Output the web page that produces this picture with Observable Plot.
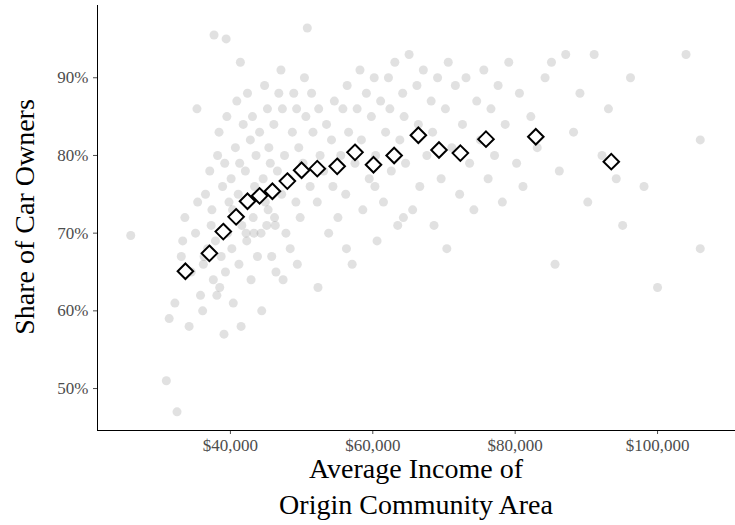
<!DOCTYPE html>
<html><head>
<script src="https://cdn.jsdelivr.net/npm/d3@7"></script>
<script src="https://cdn.jsdelivr.net/npm/@observablehq/plot@0.6"></script>
<style>body{margin:0;background:#fff}</style>
</head><body>
<div id="chart"></div>
<script>
// binned means (income in $, share in %)
const binIncome = [33680,37050,39000,40800,42400,44100,45900,48000,50000,52200,55000,57500,60100,63000,66400,69300,72300,75900,82900,93500]
const binShare = [65.1,67.4,70.2,72.1,74.1,74.8,75.4,76.7,78.1,78.3,78.6,80.4,78.8,80.0,82.6,80.7,80.3,82.1,82.4,79.2]

// community-area points (income in $k, share %)
const ptIncome = [26,32.5,31,31.4,32.2,33.1,33.6,34.2,34.5,35.1,35.4,35.8,36.2,36.5,36.1,36.8,37.3,37.1,37.6,37.9,37.4,38.2,38.5,38.7,38.1,38.9,38.4,39.3,39.6,39.2,39.8,39.1,39.5,40.2,40.5,40.1,40.7,40.4,40.9,40.3,41.2,41.6,41.3,41.8,41.1,41.5,42.3,42.6,42.1,42.8,42.4,42.9,43.2,43.6,43.1,43.8,43.4,44.3,44.6,44.1,44.8,44.4,44.9,45.3,45.6,45.2,45.8,45.4,46.3,46.6,46.1,46.8,46.4,47.2,47.6,47.3,47.8,47.1,48.2,48.7,48.4,48.9,49.2,49.6,49.3,49.8,50.2,50.6,50.4,50.8,51.2,51.6,51.4,52.2,52.6,52.4,53.1,53.5,53.8,54.2,54.6,54.4,55.1,55.5,55.8,56.2,56.6,56.4,57.1,57.5,57.8,58.2,58.6,58.4,59.1,59.5,59.8,60.2,60.6,60.4,61.1,61.5,61.8,62.2,62.6,62.4,63.1,63.5,63.8,64.2,64.6,64.4,65.1,65.6,66.2,66.6,66.4,67.1,67.6,68.2,68.6,68.4,69.1,69.6,70.2,70.6,70.4,71.1,71.6,72.2,72.6,73.1,73.6,74.2,74.6,75.1,75.6,76.2,76.6,77.1,77.6,78.2,78.6,79.1,80.2,80.6,81.1,82.2,83.1,84.2,85.1,85.6,86.2,87.1,88.2,89.1,90.2,91.1,92.2,93.1,94.2,95.1,96.2,98.1,100,104,106,106,35.3,37.7,39.4,41.4,43.3,45.1,47.4,49.4,33.3,36.3,42.2,46.2,52.3,56.3,60.3,64.3]
const ptShare = [69.7,47,51,59,61,67,72,58,65,70,74,62,66,75,60,68,71,78,64,69,73,80,63,67,62,76,83,65,70,79,74,57,85,68,72,77,81,61,87,73,66,71,79,84,75,58,69,74,78,82,88,64,72,80,85,67,76,70,77,83,89,60,74,73,79,86,67,81,71,78,84,88,65,75,80,86,70,91,77,83,68,88,74,81,86,72,79,85,90,96.4,76,83,88,74,80,86,78,84,70,82,87,76,72,80,86,75,83,89,66,79,86,91,73,82,88,77,85,90,69,80,87,74,83,90,78,86,92,71,82,88,79,85,93,73,89,76,84,91,80,87,71,83,90,77,86,92,68,81,89,75,84,90,79,73,87,82,91,77,86,80,89,74,84,92,79,88,76,85,81,90,92,66,78,93,83,88,74,93,80,86,77,71,90,76,63,93,68,82,86,95.5,95,92,70,71,64,66,69,67,70,72,63,68,76,72,81,84,70,65,73]

const points = ptIncome.map((v, i) => ({income: v * 1000, share: ptShare[i]}))
const bins = binIncome.map((v, i) => ({income: v, share: binShare[i]}))

const xMin = 21330, yMin = 44.6
const chart = Plot.plot({
  width: 735,
  height: 525,
  marginLeft: 97,
  marginRight: 0,
  marginTop: 5,
  marginBottom: 95,
  style: {fontFamily: "Liberation Serif", fontSize: "17px", color: "#4d4d4d", background: "#fff"},
  x: {domain: [xMin, 110950], ticks: [40000, 60000, 80000, 100000], tickFormat: d => "$" + d3.format(",")(d), label: null, tickSize: 4, tickPadding: 4},
  y: {domain: [yMin, 99.3], ticks: [50, 60, 70, 80, 90], tickFormat: d => d + "%", label: null, tickSize: 4},
  marks: [
    Plot.dot(points, {x: "income", y: "share", r: 4.5, fill: "#888", fillOpacity: 0.25}),
    Plot.ruleX([xMin], {stroke: "#000"}),
    Plot.ruleY([yMin], {stroke: "#000"}),
    Plot.dot(bins, {x: "income", y: "share", symbol: "diamond2", r: 7, stroke: "#000", strokeWidth: 2, fill: "#fff"})
  ]
})
const svg = d3.select(chart)
svg.append("text").attr("x", 416).attr("y", 478).attr("text-anchor", "middle")
  .attr("font-family", "Liberation Serif").attr("font-size", 28).attr("fill", "#000").text("Average Income of")
svg.append("text").attr("x", 416).attr("y", 514).attr("text-anchor", "middle")
  .attr("font-family", "Liberation Serif").attr("font-size", 28).attr("fill", "#000").text("Origin Community Area")
svg.append("text").attr("transform", "translate(34,217) rotate(-90)").attr("text-anchor", "middle")
  .attr("font-family", "Liberation Serif").attr("font-size", 28).attr("fill", "#000").text("Share of Car Owners")
d3.select('#chart').append(() => chart)
</script>
</body></html>
